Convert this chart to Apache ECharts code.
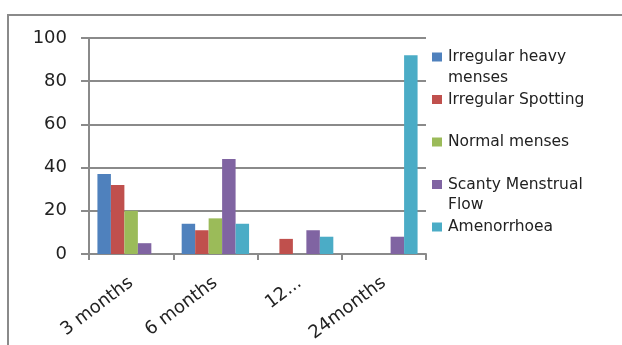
<!DOCTYPE html>
<html>
<head>
<meta charset="utf-8">
<script src="https://cdn.jsdelivr.net/npm/echarts@6/dist/echarts.min.js"></script>
<style>
  html, body { margin: 0; padding: 0; background: #fff; }
  #chart { width: 622px; height: 345px; }
</style>
</head>
<body>
<div id="chart"></div>
<script>
// Follow-up periods and the share of patients (%) in each menstrual pattern
const categories = ['3 months', '6 months', '12 months', '24months'];
const tickLabels = ['3 months', '6 months', '12...', '24months'];

const irregularHeavy = [37, 14, 0, 0];
const irregularSpotting = [32, 11, 7, 0];
const normalMenses = [20, 16.5, 0, 0];
const scantyFlow = [5, 44, 11, 8];
const amenorrhoea = [0, 14, 8, 92];

const seriesNames = [
  'Irregular heavy menses',
  'Irregular Spotting',
  'Normal menses',
  'Scanty Menstrual Flow',
  'Amenorrhoea'
];
// First line of each legend entry; wrapped remainders are drawn below
const legendFirstLines = {
  'Irregular heavy menses': 'Irregular heavy',
  'Irregular Spotting': 'Irregular Spotting',
  'Normal menses': 'Normal menses',
  'Scanty Menstrual Flow': 'Scanty Menstrual',
  'Amenorrhoea': 'Amenorrhoea'
};
const seriesValues = [irregularHeavy, irregularSpotting, normalMenses, scantyFlow, amenorrhoea];
const colors = ['#4F81BD', '#C0504D', '#9BBB59', '#8064A2', '#4BACC6'];

const FONT = 'DejaVu Sans';
const LEGEND_FONT = '15.5px "' + FONT + '"';
const chart = echarts.init(document.getElementById('chart'), null, { renderer: 'canvas' });

chart.setOption({
  animation: false,
  color: colors,
  grid: { left: 89, right: 196, top: 38, bottom: 91, containLabel: false },
  graphic: [
    {
      type: 'rect',
      shape: { x: 8, y: 15, width: 700, height: 400 },
      style: { fill: 'none', stroke: '#8a8a8a', lineWidth: 2 },
      silent: true
    },
    {
      type: 'text', x: 448, y: 78,
      style: { text: 'menses', font: LEGEND_FONT, fill: '#222', textVerticalAlign: 'middle' }
    },
    {
      type: 'text', x: 448, y: 205,
      style: { text: 'Flow', font: LEGEND_FONT, fill: '#222', textVerticalAlign: 'middle' }
    }
  ],
  legend: {
    orient: 'vertical',
    left: 432,
    top: 49,
    padding: 0,
    itemWidth: 10,
    itemHeight: 9,
    itemGap: 26.5,
    icon: 'rect',
    selectedMode: false,
    formatter: name => legendFirstLines[name],
    textStyle: { fontFamily: FONT, fontSize: 15.5, color: '#222', lineHeight: 16, padding: [0, 0, 0, 1] },
    data: seriesNames
  },
  xAxis: {
    type: 'category',
    data: categories,
    boundaryGap: true,
    axisLine: { lineStyle: { color: '#8a8a8a', width: 2 } },
    axisTick: { show: true, length: 6, lineStyle: { color: '#8a8a8a', width: 2 } },
    axisLabel: {
      interval: 0,
      rotate: 37,
      margin: 27,
      fontFamily: FONT,
      fontSize: 18,
      color: '#222',
      formatter: (v, i) => tickLabels[i]
    }
  },
  yAxis: {
    type: 'value',
    min: 0,
    max: 100,
    interval: 20,
    axisLine: { show: true, lineStyle: { color: '#8a8a8a', width: 2 } },
    axisTick: { show: true, length: 8, lineStyle: { color: '#8a8a8a', width: 2 } },
    splitLine: { show: true, lineStyle: { color: '#8a8a8a', width: 2 } },
    axisLabel: { margin: 22, fontFamily: FONT, fontSize: 18, color: '#222' }
  },
  series: seriesNames.map((name, i) => ({
    name: name,
    type: 'bar',
    data: seriesValues[i],
    barGap: '0%',
    barCategoryGap: '20%',
    itemStyle: { color: colors[i] }
  }))
});
</script>
</body>
</html>
